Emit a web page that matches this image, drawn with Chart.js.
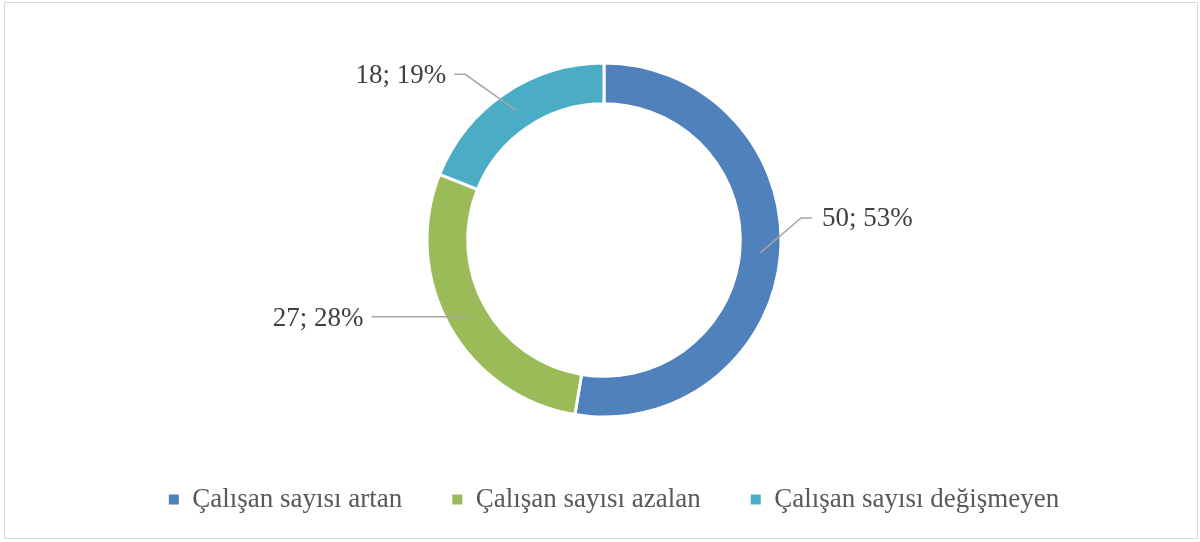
<!DOCTYPE html>
<html>
<head>
<meta charset="utf-8">
<script src="https://cdn.jsdelivr.net/npm/chart.js@4.4.1/dist/chart.umd.min.js"></script>
<style>
html,body{margin:0;padding:0;background:#fff;}
#wrap{position:relative;width:1200px;height:542px;}
#frame{position:absolute;left:4px;top:2px;width:1194px;height:537px;border:1px solid #d9d9d9;box-sizing:border-box;pointer-events:none;}
canvas{position:absolute;left:0;top:0;}
</style>
</head>
<body>
<div id="wrap">
<canvas id="c" width="1200" height="542"></canvas>
<div id="frame"></div>
</div>
<script>
const categories = ['Çalışan sayısı artan', 'Çalışan sayısı azalan', 'Çalışan sayısı değişmeyen'];
const values = [50, 27, 18];
const colors = ['#4F81BD', '#9BBB59', '#4BACC6'];

const FONT = "'Liberation Serif', 'Times New Roman', serif";
// leader-line layout per slice: elbow offset (dx,dy) from ring midpoint, then horizontal run
const leaderLayout = [
  {dx: 41, dy: -35, run: 11, gap: 10, align: 'left'},
  {dx: -96, dy: 0, run: 0, gap: 8, align: 'right'},
  {dx: -51, dy: -36, run: -11, gap: 8, align: 'right'}
];

const labelPlugin = {
  id: 'leaderLabels',
  afterDatasetsDraw(chart) {
    const ctx = chart.ctx;
    const meta = chart.getDatasetMeta(0);
    const data = chart.data.datasets[0].data;
    const total = data.reduce((a, b) => a + b, 0);
    ctx.save();
    meta.data.forEach((arc, i) => {
      const p = arc.getProps(['x', 'y', 'startAngle', 'endAngle', 'innerRadius', 'outerRadius'], true);
      const mid = (p.startAngle + p.endAngle) / 2;
      const r = (p.innerRadius + p.outerRadius) / 2;
      const x0 = p.x + r * Math.cos(mid);
      const y0 = p.y + r * Math.sin(mid);
      const L = leaderLayout[i];
      const x1 = x0 + L.dx, y1 = y0 + L.dy;
      const x2 = x1 + L.run;
      ctx.strokeStyle = '#a6a6a6';
      ctx.lineWidth = 1.5;
      ctx.beginPath();
      ctx.moveTo(x0, y0);
      ctx.lineTo(x1, y1);
      ctx.lineTo(x2, y1);
      ctx.stroke();
      const pct = Math.round(data[i] / total * 100);
      const txt = data[i] + '; ' + pct + '%';
      ctx.font = '27px ' + FONT;
      ctx.fillStyle = '#404040';
      ctx.textBaseline = 'middle';
      if (L.align === 'left') {
        ctx.textAlign = 'left';
        ctx.fillText(txt, x2 + L.gap, y1 + 1);
      } else {
        ctx.textAlign = 'right';
        ctx.fillText(txt, x2 - L.gap, y1 + 2);
      }
    });
    ctx.restore();
  }
};

// nudge the legend block slightly right, as in the reference
const legendShift = {
  id: 'legendShift',
  afterLayout(chart) {
    if (chart.legend) { chart.legend.left += 10; chart.legend.right += 10; }
  }
};

new Chart(document.getElementById('c'), {
  type: 'doughnut',
  data: {
    labels: categories,
    datasets: [{
      data: values,
      backgroundColor: colors,
      borderColor: '#ffffff',
      borderWidth: 3,
      radius: 177,
      hoverOffset: 0
    }]
  },
  options: {
    responsive: false,
    animation: false,
    events: [],
    cutout: '77%',
    layout: {padding: {top: 44, bottom: 19, left: 8, right: 0}},
    plugins: {
      tooltip: {enabled: false},
      legend: {
        position: 'bottom',
        labels: {
          font: {family: FONT, size: 27},
          color: '#595959',
          boxWidth: 10,
          boxHeight: 10,
          padding: 50,
          generateLabels(chart) {
            const items = Chart.controllers.doughnut.overrides.plugins.legend.labels.generateLabels(chart);
            items.forEach(it => { it.lineWidth = 0; it.strokeStyle = it.fillStyle; });
            return items;
          }
        }
      }
    }
  },
  plugins: [labelPlugin, legendShift]
});
</script>
</body>
</html>
